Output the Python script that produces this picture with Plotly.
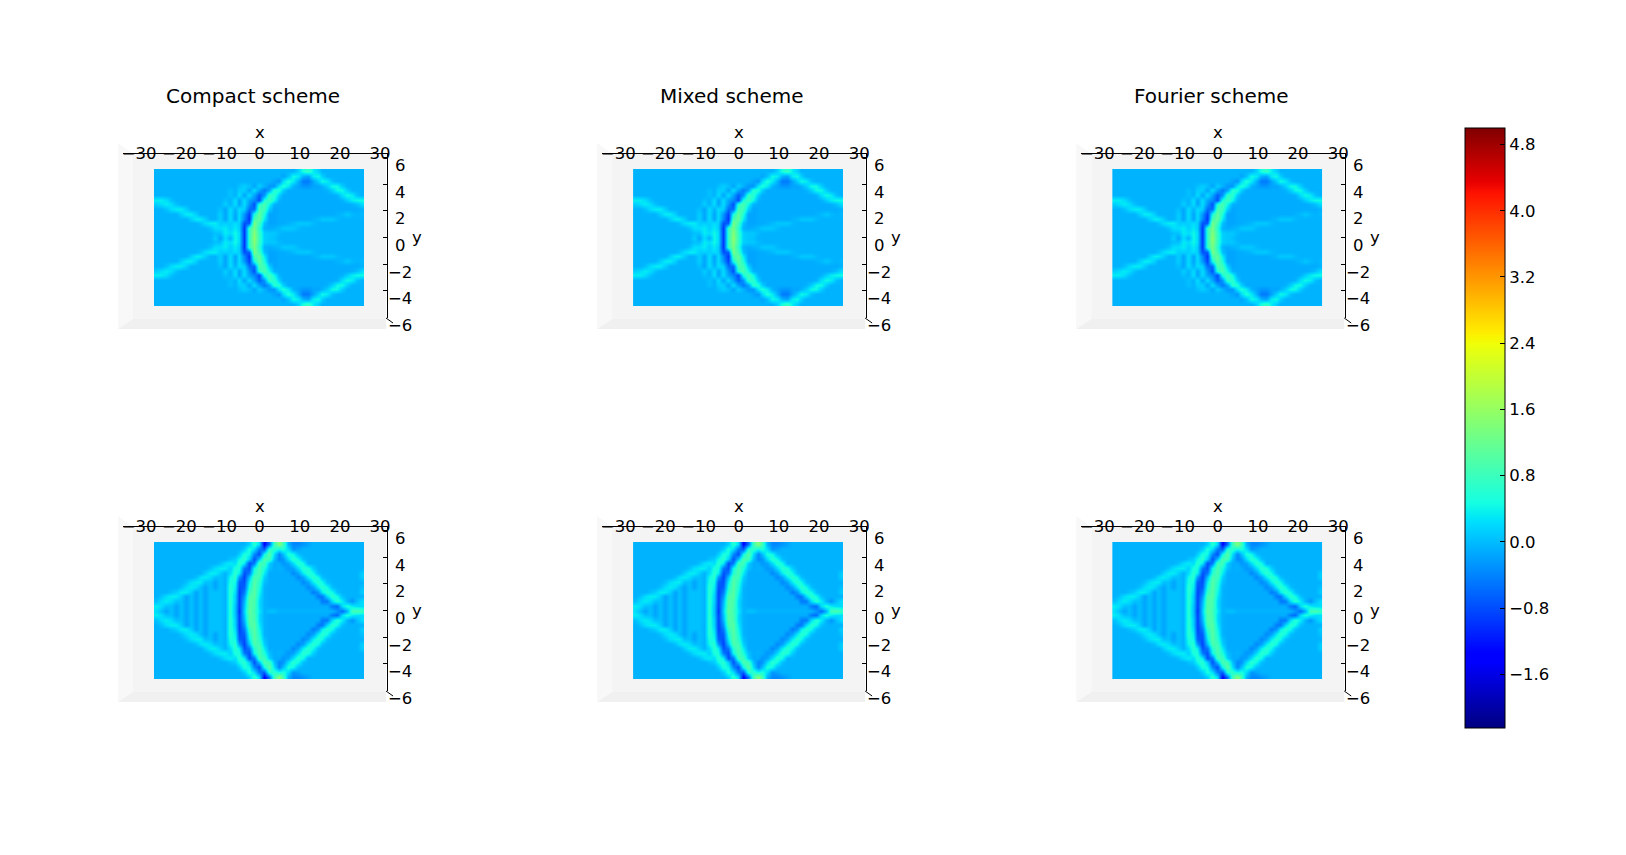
import numpy as np
import plotly.graph_objects as go

W, H = 1626, 855
# the browser keeps its default 8px margin round the plot
PAGE_MARGIN = 8

SCHEMES = ["Compact scheme", "Mixed scheme", "Fourier scheme"]
X_TICKS = [-30, -20, -10, 0, 10, 20, 30]
Y_TICKS = [-6, -4, -2, 0, 2, 4, 6]
CBAR_TICKS = [-1.6, -0.8, 0.0, 0.8, 1.6, 2.4, 3.2, 4.0, 4.8]
Z_MIN, Z_MAX = -2.25, 5.0

# field, in tenths, upper half only (y = 6 down to y = 0),
# the solution is symmetric about y = 0
TOP_UPPER = [
    [-1]*29 + [1, 5, 7, 3, 1] + [-1]*9,
    [-1]*26 + [-2, 0, 4, 3, -1, -2, 3, 4, 1] + [-1]*8,
    [-1]*24 + [-2, -3, 2, 5, 3, -1, -5, -5, -2, 1, 4, 3, 0] + [-1]*6,
    [-1]*17 + [0, 1, 0, -2, 1, -1, -3, -3, 3, 5, 3, -1, -2, -3, -3, -2, -2, -1, 1, 4, 4, 1] + [-1]*4,
    [-1]*15 + [0, -1, 1, 1, -2, 2, -2, -5, -2, 6, 5, 1] + [-1.5]*8 + [-1, 1, 4, 4, 1] + [-1]*3,
    [-1]*15 + [0, -1, 2, -2, 2, -2, -7, -3, 7, 6, 1] + [-1.5]*11 + [-1, 2, 4, 3, 0, -1],
    [3, 3, 2, 0] + [-1]*10 + [0, -1, 2, -2, 2, -2, -4, -8, 5, 8, 4, -1] + [-1.5]*12 + [-1, 1, 3, 4, 4],
    [1, 2, 3, 2, 0] + [-1]*9 + [1, -1, 2, -2, 2, -3, -8, 6, 9, 4, -1] + [-1.5]*15 + [-1, 0, 2],
    [-1, -1, 0, 2, 3, 3, 1, -1] + [-1]*5 + [0, -2, 2, -1, 2, 1, -6, -6, 9, 8, 1, -2] + [-1.5]*17 + [-1],
    [-1]*4 + [-1, 1, 3, 3, 1, -1] + [-1]*3 + [1, -2, 2, -2, 2, -3, -9, 5, 11, 5, -2, -2] + [-1.5]*12 + [-1, -0.5, 0.5, -0.5, -1, -0.5],
    [-1]*6 + [-1, 1, 3, 3, 1, -1, -1] + [1, -2, 2, -2, 2, -4, -10, 9, 11, 3, -2, -2] + [-1.5]*7 + [-1, -0.5, 0.5, 0.5, 0.5, -0.5] + [-1]*5,
    [-1]*8 + [-1, 0, 2, 3, 3, 1, 1, 1, 2, 1, -8, -7, 13, 8, 0, -2, -2] + [-1.5]*2 + [-1, -0.5, 0.5, 0.5, 0.5, -0.5] + [-1]*10,
    [-1]*11 + [0, 2, 2, 3, 1, 3, 1, -10, 7, 13, 6, -1, -1.5, -1, -0.5, 0.5, 0.5, 0.5, -0.5] + [-1]*13,
    [-1]*12 + [0, 0, 3, 2, 4, 2, -10, 7, 14, 7, 1, 0.5, 0.5, -0.5] + [-1]*17,
    [-1]*12 + [1, -2, 2, -1, 4, 2, -10, 7, 15, 7, 1, 0.5, 0] + [-1]*18,
]

BOTTOM_UPPER = [
    [-1]*19 + [1, 6, 2, -14, -6, 8, 14, 8, -1, -4, -4, -3, -2] + [-1]*11,
    [-1]*18 + [1, 5, 2, -5, -7, 6, 6, 4, 5, 2, -3, -2] + [-1]*13,
    [-1]*17 + [1, 5, 4, -4, -8, 4, 10, 2, -4, 0, 5, 4, 0] + [-1]*13,
    [-1]*15 + [0, 1, 4, 6, 1, -8, 0, 9, 8, 0, -4, -3, 2, 6, 4, 0] + [-1]*12,
    [-1]*12 + [-1, 0, 2, 3, 2, 6, 3, -8, -5, 8, 8, 1, -1.5, -1.5, -3, -2, 2, 6, 4] + [-1]*12,
    [-1]*11 + [0, 2, 3, 3, 1, 5, 5, -5, -8, 4, 9, 5, 0, -1.5, -1, -1.5, -3, -2, 2, 6, 5, 1] + [-1]*10,
    [-1]*9 + [-1, 1, 3, 3, 1, -1, 2, 6, 3, -8, -5, 6, 9, 3] + [-1.5]*5 + [-4, -2, 3, 6, 4, 0] + [-1]*8 + [1],
    [-1]*7 + [-1, 0, 2, 3, 2, 0, 0, -1, 4, 6, -3, -9, 0, 9, 8, 1] + [-1.5]*6 + [-4, -2, 3, 6, 4, 0] + [-1]*7 + [1],
    [-1]*5 + [-1, 0, 2, 3, 3, 0, 0, -2, 0, -1, 5, 4, -7, -8, 3, 10, 6, 0] + [-1.5]*7 + [-4, -2, 3, 6, 4, 0] + [-1]*7,
    [-1]*3 + [-1, -1, 0, 2, 3, 2, 0, -2, 0, -2, 0, -1, 6, 3, -8, -7, 5, 10, 5, -1] + [-1.5]*8 + [-4, -2, 3, 6, 4, 0] + [-1]*5 + [0],
    [-1, -1, -1, 0, 1, 3, 3, 1, -2, 0, -2, 0, 0, 0, -1, 6, 2, -9, -5, 7, 10, 4, -1] + [-1.5]*9 + [-5, -3, 3, 6, 4, 0] + [-1]*4 + [1],
    [-1, 0, 2, 3, 3, 1, -2, 0, -2, 0, -2, 0, 0, 0, -1, 6, 1, -9, -3, 9, 10, 3, -1] + [-1.5]*10 + [-5, -5, 2, 6, 4, 0] + [-1]*4,
    [0, 2, 3, 2, 0, 0, -2, 0, -2, 0, -2, 0, 0, 0, -1, 6, 1, -9, -1, 10, 9, 2, -1] + [-1.5]*11 + [-5, -5, 2, 6, 3, -1, -3, 0, 2],
    [3, 2, 0, 0, -2, 0, -2, 0, -2, 0, -2, 0, 0, 0, -1, 6, 0, -9, 0, 10, 9, 2, -1] + [-1.5]*13 + [-5, -6, 2, 5, 3, 2, 2],
    [2, 0, -2, 0, -2, 0, -2, 0, -2, 0, -2, 0, 0, 0, -1, 6, 0, -10, 1, 11, 8, 3, -1, 0, 0] + [-1]*12 + [-3, -6, -1, 8, 9, 7],
]

# matplotlib's jet
JET = [
    [0.0, "rgb(0,0,128)"], [0.11, "rgb(0,0,255)"], [0.125, "rgb(0,0,255)"],
    [0.34, "rgb(0,219,255)"], [0.35, "rgb(0,230,247)"], [0.375, "rgb(21,255,226)"],
    [0.64, "rgb(239,255,8)"], [0.65, "rgb(247,246,0)"], [0.66, "rgb(255,236,0)"],
    [0.89, "rgb(255,19,0)"], [0.91, "rgb(232,0,0)"], [1.0, "rgb(128,0,0)"],
]

FONT = "DejaVu Sans"
TICK_SIZE = 16.5
TITLE_SIZE = 20


def px(x):
    return (x - PAGE_MARGIN) / W


def py(y):
    return 1 - (y - PAGE_MARGIN) / H


def field(upper):
    for r in upper:
        assert len(r) == 43, (len(r), r)
    # background sits a touch above -0.1 in the reference
    rows = [[(v + 0.3) / 10 for v in r] for r in upper]
    return rows + rows[-2::-1]


def add_panel(fig, n, dx, dy, z, title):
    hx, hy = f"x{2 * n + 1}", f"y{2 * n + 1}"
    tx, ty = f"x{2 * n + 2}", f"y{2 * n + 2}"
    key = lambda a: a[0] + "axis" + a[1:]

    # panes of the 3d box
    panes = [
        (f"M{px(118 + dx)},{py(143 + dy)} L{px(133 + dx)},{py(154 + dy)} L{px(133 + dx)},{py(319 + dy)} "
         f"L{px(118 + dx)},{py(329 + dy)} Z", "#f8f8f8"),
        (f"M{px(133 + dx)},{py(154 + dy)} L{px(386 + dx)},{py(154 + dy)} L{px(386 + dx)},{py(319 + dy)} "
         f"L{px(133 + dx)},{py(319 + dy)} Z", "#f4f4f4"),
        (f"M{px(118 + dx)},{py(329 + dy)} L{px(133 + dx)},{py(319 + dy)} L{px(386 + dx)},{py(319 + dy)} "
         f"L{px(386 + dx)},{py(329 + dy)} Z", "#f0f0f0"),
    ]
    for path, color in panes:
        fig.add_shape(type="path", path=path, xref="paper", yref="paper",
                      fillcolor=color, line_width=0, layer="below")
    fig.add_shape(type="line", xref="paper", yref="paper", line=dict(color="black", width=1),
                  x0=px(386 + dx), y0=py(318 + dy), x1=px(393 + dx), y1=py(323 + dy))

    x_vals = np.linspace(-30, 30, len(z[0]))
    y_vals = np.linspace(6, -6, len(z))
    half_x, half_y = 30 / (len(z[0]) - 1), 6 / (len(z) - 1)
    fig.add_trace(go.Heatmap(x=x_vals, y=y_vals, z=z, zsmooth="best", coloraxis="coloraxis",
                             xaxis=hx, yaxis=hy, hoverinfo="skip"))
    fig.update_layout({
        key(hx): dict(domain=[px(154 + dx), px(364 + dx)], range=[-30 - half_x, 30 + half_x],
                      visible=False, anchor=hy),
        key(hy): dict(domain=[py(306 + dy), py(169 + dy)], range=[-6 - half_y, 6 + half_y],
                      visible=False, anchor=hx),
        key(tx): dict(domain=[px(122.7 + dx), px(386.5 + dx)], range=[-34.1, 31.6], anchor=ty, side="top",
                      tickvals=X_TICKS, ticks="", showgrid=False, zeroline=False, showline=True,
                      linecolor="black", linewidth=1, ticklabelstandoff=-13,
                      tickfont=dict(family=FONT, size=TICK_SIZE, color="black")),
        key(ty): dict(domain=[py(318 + dy), py(154 + dy)], range=[-6.05, 6.25], anchor=tx, side="right",
                      tickvals=Y_TICKS, ticks="inside", ticklen=4, tickcolor="black", showticklabels=False,
                      showgrid=False, zeroline=False, showline=True, linecolor="black", linewidth=1),
    })
    for v in Y_TICKS:
        fig.add_annotation(text=f"{v}".replace("-", "\u2212"), xref="paper", yref=ty, x=px(400 + dx), y=v,
                           yshift=-8, showarrow=False, xanchor="center", yanchor="middle",
                           font=dict(family=FONT, size=TICK_SIZE, color="black"))
    for text, x, y in [("x", 260, 133), ("y", 416.5, 237), (title, 253, 96) if title else ("", 0, 0)]:
        if text:
            fig.add_annotation(text=text, xref="paper", yref="paper", x=px(x + dx), y=py(y + dy),
                               showarrow=False, xanchor="center", yanchor="middle",
                               font=dict(family=FONT, size=TITLE_SIZE if text == title else TICK_SIZE,
                                         color="black"))


top = field(TOP_UPPER)
bottom = field(BOTTOM_UPPER)

fig = go.Figure()
n = 0
for r, z in enumerate([top, bottom]):
    for c, scheme in enumerate(SCHEMES):
        add_panel(fig, n, 479.1 * c, 373 * r, z, scheme if r == 0 else None)
        n += 1

fig.update_layout(
    width=W, height=H,
    margin=dict(l=0, r=0, t=0, b=0, autoexpand=False),
    paper_bgcolor="white", plot_bgcolor="rgba(0,0,0,0)",
    showlegend=False,
    coloraxis=dict(
        cmin=Z_MIN, cmax=Z_MAX, colorscale=JET,
        colorbar=dict(
            x=px(1464.5), xanchor="left", y=py(728), yanchor="bottom",
            thickness=40, thicknessmode="pixels", len=599.5, lenmode="pixels",
            outlinecolor="black", outlinewidth=1, xpad=0, ypad=0,
            tickvals=CBAR_TICKS, tickformat=".1f", ticks="inside", ticklen=5, tickcolor="black",
            tickfont=dict(family=FONT, size=TICK_SIZE, color="black"),
        ),
    ),
)

fig.write_html("out.html")
